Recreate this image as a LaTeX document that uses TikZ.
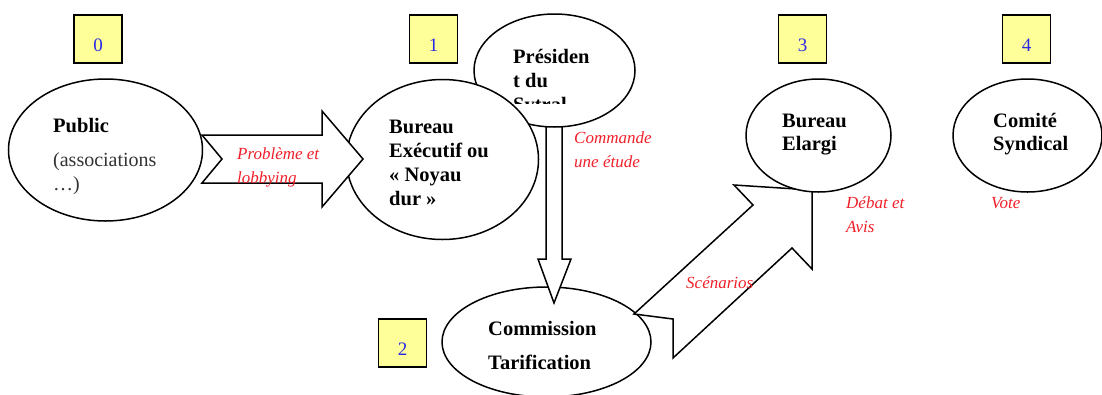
\documentclass[tikz,border=0pt]{standalone}
\usepackage{fontspec}
\setmainfont{Liberation Serif}
\usetikzlibrary{shapes.geometric}
\definecolor{boxyellow}{HTML}{FFFF99}
\definecolor{numblue}{HTML}{2A2AE6}
\definecolor{notered}{HTML}{F0202A}
\definecolor{darkgray}{HTML}{333333}
\newcommand{\numtxt}[1]{\raisebox{-12pt}[0pt][0pt]{#1}}
\begin{document}
\begin{tikzpicture}[x=1pt,y=-1pt,
  ell/.style={draw, ellipse, fill=white, line width=1.5pt, inner sep=0pt},
  numbox/.style={draw, fill=boxyellow, minimum width=48pt, minimum height=48pt, line width=1.5pt, inner sep=0pt, text=numblue, font=\fontsize{19}{20}\selectfont},
  boldtxt/.style={anchor=base west, inner sep=0pt, font=\bfseries\fontsize{20.5}{24}\selectfont},
  plaintxt/.style={anchor=base west, inner sep=0pt, text=darkgray, font=\fontsize{20}{24}\selectfont},
  notetxt/.style={anchor=base west, inner sep=0pt, text=notered, font=\itshape\fontsize{17}{20}\selectfont},
  blockarrow/.style={draw, fill=white, line width=1.5pt, line join=miter}
]
\useasboundingbox (0,0) rectangle (1102,394);

% numbered boxes
\node[numbox] (b0) at (98,39) {\numtxt{0}};
\node[numbox] (b1) at (433.5,39) {\numtxt{1}};
\node[numbox] (b2) at (402.5,343) {\numtxt{2}};
\node[numbox] (b3) at (802.5,39) {\numtxt{3}};
\node[numbox] (b4) at (1026.5,39) {\numtxt{4}};

% Commission ellipse
\node[ell, minimum width=209pt, minimum height=110pt] (comm) at (546.5,342) {};

% Scenarios block arrow
\draw[blockarrow] (634,314) -- (673,319) -- (673,358) -- (792,248) -- (812,269)
  -- (812,190) coordinate (scentip) -- (734,185) -- (753,205) -- cycle;

% vertical block arrow (President -> Commission)
\draw[blockarrow] (546,110) -- (546,259) -- (538,259) -- (554,303) coordinate (vtip)
  -- (571,259) -- (562,259) -- (562,110) -- cycle;

% President ellipse
\node[ell, minimum width=161pt, minimum height=113pt] (pres) at (554.5,70.5) {};
\node[boldtxt] (pres1) at (513,63) {Présiden};
\node[boldtxt] (pres2) at (513,87) {t du};
\begin{scope}
  \clip (470,90) rectangle (640,103);
  \node[boldtxt] (pres3) at (513,111) {Sytral};
\end{scope}

% Bureau executif ellipse
\node[ell, minimum width=192pt, minimum height=160pt] (bexec) at (442.5,159.5) {};
\node[boldtxt] (bx1) at (389,133) {Bureau};
\node[boldtxt] (bx2) at (389,157) {Exécutif ou};
\node[boldtxt] (bx3) at (389,181) {« Noyau};
\node[boldtxt] (bx4) at (389,205) {dur »};

% Public ellipse
\node[ell, minimum width=194pt, minimum height=142pt] (public) at (105.5,150) {};
\node[boldtxt] (pub1) at (53,132) {Public};
\node[plaintxt] (pub2) at (53,166) {(associations};
\node[plaintxt] (pub3) at (53,190) {…)};

% Public -> Bureau block arrow
\draw[blockarrow] (202,135) -- (322,135) -- (322,111) -- (363,159) coordinate (ptip)
  -- (322,207) -- (322,183) -- (202,183) -- (222,159) -- cycle;

% Bureau Elargi
\node[ell, minimum width=145pt, minimum height=113pt] (belarg) at (818.5,135.5) {};
\node[boldtxt] (be1) at (782,127) {Bureau};
\node[boldtxt] (be2) at (782,150) {Elargi};

% Comite Syndical
\node[ell, minimum width=149pt, minimum height=113pt] (csynd) at (1027.5,135.5) {};
\node[boldtxt] (cs1) at (993,127) {Comité};
\node[boldtxt] (cs2) at (993,150) {Syndical};

% Commission text
\node[boldtxt] (cm1) at (488,335) {Commission};
\node[boldtxt] (cm2) at (488,369) {Tarification};

% red notes
\node[notetxt] (n1a) at (237,159) {Problème et};
\node[notetxt] (n1b) at (237,183) {lobbying};
\node[notetxt] (n2a) at (574,143) {Commande};
\node[notetxt] (n2b) at (574,167) {une étude};
\node[notetxt] (n3) at (686,288) {Scénarios};
\node[notetxt] (n4a) at (846,208) {Débat et};
\node[notetxt] (n4b) at (846,232) {Avis};
\node[notetxt] (n5) at (991,208) {Vote};
\end{tikzpicture}
\end{document}
